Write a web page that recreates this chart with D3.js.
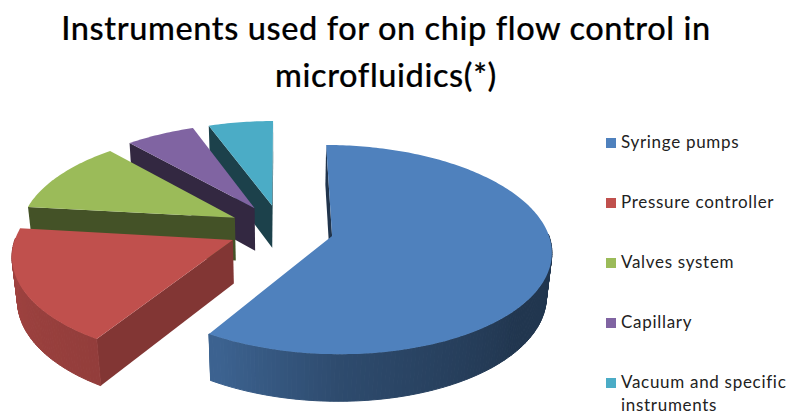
<!DOCTYPE html>
<html>
<head>
<meta charset="utf-8">
<script src="https://cdn.jsdelivr.net/npm/d3@7/dist/d3.min.js"></script>
<style>
html,body{margin:0;padding:0;background:#fff}
svg{display:block}
text{font-family:Lato,"Open Sans",sans-serif}
</style>
</head>
<body>
<svg id="chart" width="787" height="414"></svg>
<script>
const titleLines = ["Instruments used for on chip flow control in", "microfluidics(*)"];
const categories = ["Syringe pumps", "Pressure controller", "Valves system", "Capillary", "Vacuum and specific instruments"];
const legendLines = [["Syringe pumps"], ["Pressure controller"], ["Valves system"], ["Capillary"], ["Vacuum and specific", "instruments"]];
const shares = [58.9, 17.9, 11.6, 6, 5.6];
const colors = ["#4f81bd", "#c0504d", "#9bbb59", "#8064a2", "#4bacc6"];

// Tilted-disc camera: horizontal and vertical radii, perspective strength, wall height
const view = { gx: 281, gy: 229, rx: 215, ry: 101, persp: 0.13, wall: 44, wallPersp: 0.02, explode: 0.245 };

const svg = d3.select("#chart");
const rad = d => d * Math.PI / 180;

// Disc coordinates to screen; level 0 is the top face, 1 the bottom face
function project(u, v, level) {
  const s = 1 / (1 - view.persp * v + view.wallPersp * level);
  return [view.gx + u * view.rx * s, view.gy + (v * view.ry + level * view.wall) * s];
}
function polar(slice, angle, radius, level) {
  const mid = (slice.startAngle + slice.endAngle) / 2;
  const u = view.explode * Math.sin(mid) + radius * Math.sin(angle);
  const v = -view.explode * Math.cos(mid) - radius * Math.cos(angle);
  return project(u, v, level);
}
const line = d3.line();
const closed = pts => line(pts) + "Z";

// Brightness of the rounded wall and the flat cut faces, by facing angle in degrees
const wallShade = d3.scaleLinear().domain([130, 180, 209, 275]).range([0.42, 0.58, 0.76, 0.85]).clamp(true);
const cutShade = d3.scaleLinear().domain([0, 209, 275, 318]).range([0.4, 0.69, 0.44, 0.4]);
function shaded(color, k) {
  const c = d3.rgb(color);
  return d3.rgb(c.r * k, c.g * k, c.b * k).formatHex();
}

const slices = d3.pie().sort(null).value(d => d)(shares);
// Back slices first so nearer ones cover them
const drawOrder = [4, 3, 2, 1, 0];

drawOrder.forEach(i => {
  const sl = slices[i];
  const g = svg.append("g").attr("class", "slice");
  const color = colors[i];

  // Flat faces along the two radial cuts, kept only when they turn towards the viewer
  [sl.startAngle, sl.endAngle].forEach((a, side) => {
    const quad = [polar(sl, a, 0, 0), polar(sl, a, 1, 0), polar(sl, a, 1, 1), polar(sl, a, 0, 1)];
    const signed = d3.polygonArea(quad) * (side === 0 ? 1 : -1);
    if (signed > 0) {
      const deg = (a * 180 / Math.PI) % 360;
      g.append("path").attr("d", closed(quad)).attr("fill", shaded(color, cutShade(deg)));
    }
  });

  // Outer wall, split into short facets for the left-to-right light falloff
  const steps = d3.range(sl.startAngle, sl.endAngle, rad(1)).concat([sl.endAngle]);
  d3.pairs(steps).forEach(([a, b]) => {
    if (Math.cos((a + b) / 2) > 0.02) return;
    const quad = [polar(sl, a, 1, 0), polar(sl, b, 1, 0), polar(sl, b, 1, 1), polar(sl, a, 1, 1)];
    const fill = shaded(color, wallShade((a + b) / 2 * 180 / Math.PI));
    g.append("path").attr("d", closed(quad)).attr("fill", fill).attr("stroke", fill).attr("stroke-width", 1);
  });

  // Top face
  const rim = d3.range(sl.startAngle, sl.endAngle, rad(1)).concat([sl.endAngle]).map(a => polar(sl, a, 1, 0));
  g.append("path").attr("d", closed([polar(sl, 0, 0, 0)].concat(rim))).attr("fill", color);
});

// Title
svg.append("g").selectAll("text").data(titleLines).join("text")
  .attr("x", 386).attr("y", (d, i) => 40 + i * 47)
  .attr("text-anchor", "middle").attr("font-size", 32.5).attr("font-weight", 500)
  .attr("fill", "#000").attr("stroke", "#000").attr("stroke-width", 0.2)
  .style("letter-spacing", "0.6px").text(d => d);

// Legend
const legendY = d3.scalePoint().domain(categories).range([143, 383]);
const legend = svg.append("g").selectAll("g").data(categories).join("g")
  .attr("transform", d => `translate(606,${legendY(d)})`);
legend.append("rect").attr("x", 0).attr("y", -5).attr("width", 10).attr("height", 10)
  .attr("fill", (d, i) => colors[i]);
legend.append("text").attr("fill", "#222").attr("font-size", 17).style("letter-spacing", "0.7px")
  .selectAll("tspan").data((d, i) => legendLines[i]).join("tspan")
  .attr("x", 15).attr("y", (d, i) => 5 + i * 23).text(d => d);
</script>
</body>
</html>
